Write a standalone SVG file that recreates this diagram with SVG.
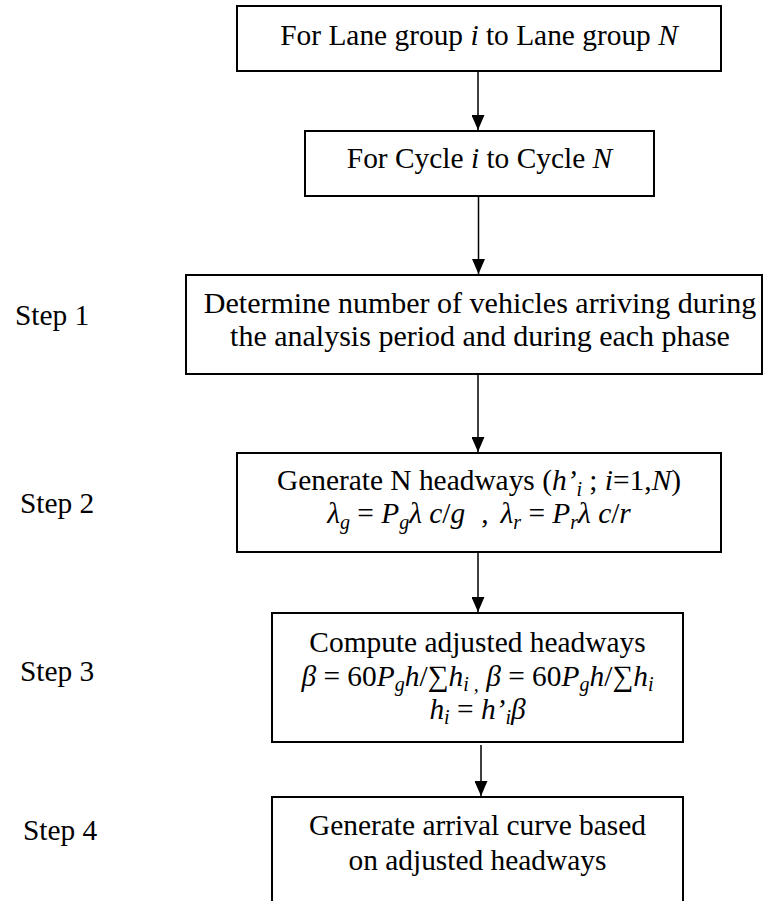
<svg xmlns="http://www.w3.org/2000/svg" width="767" height="901" viewBox="0 0 767 901">
<style>
.box{fill:#fff;stroke:#000;stroke-width:2}
.t{font-family:"Liberation Serif","Times New Roman",serif;font-size:29.4px;fill:#000;text-anchor:middle}
.s{font-family:"Liberation Serif","Times New Roman",serif;font-size:29.4px;fill:#000}
.i{font-style:italic}
.sub{font-size:20px;font-style:italic}
.c{stroke:#000;stroke-width:1.5;fill:none}
</style>
<defs>
<marker id="ah" markerWidth="15" markerHeight="13" refX="15" refY="6.5" orient="auto" markerUnits="userSpaceOnUse" viewBox="0 0 15 13">
<path d="M0,0 L15,6.5 L0,13 Z" fill="#000"/>
</marker>
</defs>
<rect width="767" height="901" fill="#fff"/>
<g id="connectors">
<path class="c" d="M478,71 V130" marker-end="url(#ah)"/>
<path class="c" d="M478.5,196 V274" marker-end="url(#ah)"/>
<path class="c" d="M478,374 V452" marker-end="url(#ah)"/>
<path class="c" d="M478,552 V612" marker-end="url(#ah)"/>
<path class="c" d="M481,745 V796" marker-end="url(#ah)"/>
</g>
<g id="node1">
<rect class="box" x="237" y="6" width="484" height="65"/>
<text class="t" x="479" y="45">For Lane group <tspan class="i">i</tspan> to Lane group <tspan class="i">N</tspan></text>
</g>
<g id="node2">
<rect class="box" x="305" y="131" width="349" height="65"/>
<text class="t" x="479.5" y="168">For Cycle <tspan class="i">i</tspan> to Cycle <tspan class="i">N</tspan></text>
</g>
<g id="node3">
<rect class="box" x="186" y="275" width="576" height="99"/>
<text class="t" x="480" y="313" style="font-size:30px">Determine number of vehicles arriving during</text>
<text class="t" x="480" y="346" style="font-size:30px">the analysis period and during each phase</text>
</g>
<g id="node4">
<rect class="box" x="237" y="453" width="484" height="99"/>
<text class="t" x="479" y="490">Generate N headways (<tspan class="i">h’</tspan><tspan class="sub" dy="6">i</tspan><tspan dy="-6"> ; </tspan><tspan class="i">i</tspan>=1,<tspan class="i">N</tspan>)</text>
<text class="t" x="479" y="523"><tspan class="i">λ</tspan><tspan class="sub" dy="6">g</tspan><tspan dy="-6"> = </tspan><tspan class="i">P</tspan><tspan class="sub" dy="6">g</tspan><tspan class="i" dy="-6">λ c</tspan>/<tspan class="i">g</tspan><tspan dx="16">,</tspan><tspan class="i" dx="12">λ</tspan><tspan class="sub" dy="6">r</tspan><tspan dy="-6"> = </tspan><tspan class="i">P</tspan><tspan class="sub" dy="6">r</tspan><tspan class="i" dy="-6">λ c</tspan>/<tspan class="i">r</tspan></text>
</g>
<g id="node5">
<rect class="box" x="272" y="613" width="411" height="129"/>
<text class="t" x="477.5" y="652">Compute adjusted headways</text>
<text class="t" x="477.5" y="686"><tspan class="i">β</tspan> = 60<tspan class="i">P</tspan><tspan class="sub" dy="5">g</tspan><tspan class="i" dy="-5">h</tspan>/∑<tspan class="i">h</tspan><tspan class="sub" dy="5">i ,</tspan><tspan dy="-5"> </tspan><tspan class="i">β</tspan> = 60<tspan class="i">P</tspan><tspan class="sub" dy="5">g</tspan><tspan class="i" dy="-5">h</tspan>/∑<tspan class="i">h</tspan><tspan class="sub" dy="5">i</tspan></text>
<text class="t" x="477.5" y="719"><tspan class="i">h</tspan><tspan class="sub" dy="5">i</tspan><tspan dy="-5"> = </tspan><tspan class="i">h’</tspan><tspan class="sub" dy="5">i</tspan><tspan class="i" dy="-5">β</tspan></text>
</g>
<g id="node6">
<rect class="box" x="272" y="797" width="411" height="120"/>
<text class="t" x="477.5" y="835">Generate arrival curve based</text>
<text class="t" x="477.5" y="870">on adjusted headways</text>
</g>
<g id="steps">
<text class="s" x="15" y="325">Step 1</text>
<text class="s" x="20" y="513">Step 2</text>
<text class="s" x="20" y="681">Step 3</text>
<text class="s" x="23" y="840">Step 4</text>
</g>
</svg>
